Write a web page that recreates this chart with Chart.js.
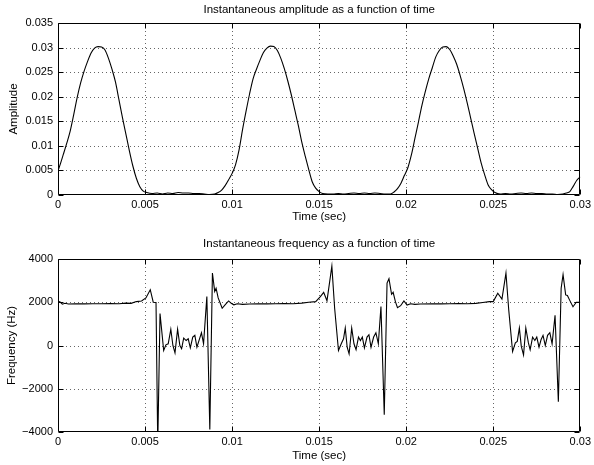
<!DOCTYPE html>
<html>
<head>
<meta charset="utf-8">
<script src="https://cdn.jsdelivr.net/npm/chart.js@4.4.1/dist/chart.umd.min.js"></script>
<style>
  body { margin: 0; background: #fff; }
  canvas { display: block; }
</style>
</head>
<body>
<canvas id="ampChart" width="594" height="232"></canvas>
<canvas id="freqChart" width="594" height="233"></canvas>
<script>
// time axis in ms, labelled in seconds
const timeTicks = [0, 5, 10, 15, 20, 25, 30];
const timeTickLabels = ['0', '0.005', '0.01', '0.015', '0.02', '0.025', '0.03'];

const ampTicks = [0, 0.005, 0.01, 0.015, 0.02, 0.025, 0.03, 0.035];
const ampTickLabels = ['0', '0.005', '0.01', '0.015', '0.02', '0.025', '0.03', '0.035'];

const freqTicks = [-4000, -2000, 0, 2000, 4000];
const freqTickLabels = ['\u22124000', '\u22122000', '0', '2000', '4000'];

// instantaneous amplitude
const ampTime = [
  0, 0.15, 0.3, 0.5, 0.7, 0.9, 1.1, 1.3, 1.5, 1.7, 1.9, 2.1, 2.3, 2.5, 2.7, 2.9, 3.1, 3.3, 3.5, 3.7,
  3.9, 4.1, 4.3, 4.5, 4.7, 4.9, 5.1, 5.4, 5.7, 6.0, 6.3, 6.6, 6.9, 7.2, 7.5, 7.8, 8.1, 8.4, 8.7, 9.0,
  9.2, 9.4, 9.6, 9.8, 10.0, 10.2, 10.4, 10.6, 10.8, 11.0, 11.2, 11.4, 11.6, 11.8, 12.0, 12.2, 12.4, 12.6, 12.8, 13.0,
  13.2, 13.4, 13.6, 13.8, 14.0, 14.2, 14.4, 14.6, 14.8, 15.0, 15.2, 15.5, 15.8, 16.1, 16.4, 16.7, 17.0, 17.3, 17.6, 17.9,
  18.2, 18.5, 18.8, 19.1, 19.3, 19.5, 19.7, 19.9, 20.1, 20.3, 20.5, 20.7, 20.9, 21.1, 21.3, 21.5, 21.7, 21.9, 22.1, 22.3,
  22.5, 22.7, 22.9, 23.1, 23.3, 23.5, 23.7, 23.9, 24.1, 24.3, 24.5, 24.7, 24.9, 25.1, 25.4, 25.7, 26.0, 26.3, 26.6, 26.9,
  27.2, 27.5, 27.8, 28.1, 28.4, 28.7, 29.0, 29.2, 29.4, 29.6, 29.8, 30.0
];
const ampValues = [
  0.0049, 0.0065, 0.0082, 0.0105, 0.0130, 0.0163, 0.0198, 0.0228, 0.0252, 0.0272, 0.0289, 0.0299, 0.0302, 0.0301, 0.0295, 0.0278, 0.0256, 0.0230, 0.0194, 0.0158,
  0.0124, 0.0090, 0.0059, 0.0034, 0.0017, 0.0008, 0.0005, 0.0003, 0.0004, 0.0002, 0.0004, 0.0003, 0.0005, 0.0004, 0.0004, 0.0003, 0.0003, 0.0002, 0.0001, 0.0002,
  0.0005, 0.0010, 0.0019, 0.0031, 0.0044, 0.0062, 0.0092, 0.0133, 0.0170, 0.0205, 0.0236, 0.0256, 0.0274, 0.0290, 0.0299, 0.0303, 0.0302, 0.0294, 0.0278, 0.0257,
  0.0232, 0.0204, 0.0173, 0.0142, 0.0108, 0.0079, 0.0052, 0.0027, 0.0014, 0.0007, 0.0003, 0.0002, 0.0002, 0.0003, 0.0002, 0.0003, 0.0004, 0.0003, 0.0004, 0.0003,
  0.0004, 0.0003, 0.0002, 0.0002, 0.0006, 0.0013, 0.0024, 0.0040, 0.0056, 0.0082, 0.0115, 0.0148, 0.0182, 0.0211, 0.0237, 0.0259, 0.0281, 0.0294, 0.0301, 0.0302,
  0.0296, 0.0283, 0.0266, 0.0243, 0.0217, 0.0188, 0.0157, 0.0126, 0.0096, 0.0066, 0.0042, 0.0021, 0.0011, 0.0005, 0.0002, 0.0003, 0.0002, 0.0003, 0.0004, 0.0003,
  0.0004, 0.0003, 0.0003, 0.0002, 0.0002, 0.0001, 0.0002, 0.0004, 0.0007, 0.0018, 0.0030, 0.0037
];

// instantaneous frequency in Hz
const freqTime = [
  0, 0.1, 0.25, 0.4, 0.6, 1.0, 1.5, 2.0, 2.5, 3.0, 3.5, 3.9, 4.2, 4.5, 4.8, 5.05, 5.3, 5.47, 5.63, 5.73,
  5.86, 6.07, 6.2, 6.33, 6.48, 6.6, 6.72, 6.87, 7.0, 7.1, 7.22, 7.36, 7.48, 7.6, 7.74, 7.86, 7.98, 8.12, 8.24, 8.36,
  8.55, 8.72, 8.87, 9.0, 9.08, 9.2, 9.43, 9.62, 9.8, 9.95, 10.1, 10.3, 10.6, 11.0, 11.5, 12.0, 12.5, 13.0, 13.5, 14.0,
  14.4, 14.8, 15.07, 15.26, 15.45, 15.73, 15.89, 16.11, 16.27, 16.4, 16.5, 16.61, 16.72, 16.87, 17.0, 17.12, 17.26, 17.37, 17.48, 17.6,
  17.75, 17.86, 17.98, 18.13, 18.26, 18.4, 18.55, 18.74, 18.9, 19.01, 19.16, 19.25, 19.38, 19.5, 19.68, 19.87, 20.05, 20.25, 20.5, 20.8,
  21.5, 22.0, 22.5, 23.0, 23.5, 24.0, 24.4, 24.78, 25.0, 25.26, 25.5, 25.73, 25.89, 26.11, 26.27, 26.38, 26.5, 26.61, 26.74, 26.87,
  27.02, 27.12, 27.26, 27.39, 27.5, 27.63, 27.75, 27.86, 27.99, 28.12, 28.25, 28.38, 28.55, 28.74, 28.9, 29.01, 29.16, 29.26, 29.38, 29.58,
  29.77, 29.92, 30.0
];
const freqValues = [
  1990, 2030, 1910, 1950, 1920, 1930, 1925, 1930, 1930, 1935, 1930, 1960, 1950, 2030, 2060, 2200, 2580, 2000, 1990, -4600,
  1480, -230, 30, 80, 750, 0, -340, 750, 0, -150, 340, 230, 310, -110, 390, 470, -80, 280, 590, 80,
  2260, -3880, 3350, 2500, 2650, 2200, 1720, 1900, 2060, 1950, 1880, 1930, 1900, 1920, 1930, 1925, 1930, 1935, 1930, 1960,
  2000, 2030, 2260, 2460, 2070, 3670, 1720, -230, 80, 310, 810, -80, -390, 810, 80, -190, 390, 230, 390, -110,
  390, 500, -80, 390, 590, 80, 1800, -3200, 2890, 3090, 2370, 2460, 2030, 1750, 1840, 2060, 1870, 1930, 1900, 1920,
  1930, 1925, 1930, 1935, 1930, 1950, 1990, 2030, 2030, 2420, 2150, 3350, 1640, -280, 120, 190, 810, -30, -440, 810,
  120, -200, 390, 230, 390, -80, 280, 470, 0, 470, 590, 80, 1400, -2600, 2650, 3280, 2340, 2310, 2110, 1790,
  2000, 2000, 2000
];

const FONT = 'Liberation Sans, Arial, Helvetica, sans-serif';

// MATLAB-like axes: dotted grid, inward ticks, box and centred title
const matlabBox = {
  id: 'matlabBox',
  beforeDatasetsDraw(chart) {
    const { ctx, chartArea: a, scales: { x, y } } = chart;
    ctx.save();
    ctx.strokeStyle = '#666';
    ctx.lineWidth = 1;
    ctx.setLineDash([1, 3]);
    ctx.beginPath();
    x.ticks.forEach(t => {
      const px = Math.round(x.getPixelForValue(t.value)) + 0.5;
      if (px < a.left + 2 || px > a.right - 2) return;
      ctx.moveTo(px, a.top);
      ctx.lineTo(px, a.bottom);
    });
    y.ticks.forEach(t => {
      const py = Math.round(y.getPixelForValue(t.value)) + 0.5;
      if (py < a.top + 2 || py > a.bottom - 2) return;
      ctx.moveTo(a.left, py);
      ctx.lineTo(a.right, py);
    });
    ctx.stroke();
    ctx.restore();
  },
  afterDatasetsDraw(chart, args, opts) {
    const { ctx, chartArea: a, scales: { x, y } } = chart;
    const L = Math.round(a.left) + 0.5, R = Math.round(a.right) - 0.5;
    const T = Math.round(a.top) + 0.5, B = Math.round(a.bottom) - 0.5;
    ctx.save();
    ctx.strokeStyle = '#000';
    ctx.lineWidth = 1;
    ctx.beginPath();
    x.ticks.forEach(t => {
      const px = Math.round(x.getPixelForValue(t.value)) + 0.5;
      ctx.moveTo(px, T); ctx.lineTo(px, T + 5);
      ctx.moveTo(px, B); ctx.lineTo(px, B - 5);
    });
    y.ticks.forEach(t => {
      const py = Math.round(y.getPixelForValue(t.value)) + 0.5;
      ctx.moveTo(L, py); ctx.lineTo(L + 5, py);
      ctx.moveTo(R, py); ctx.lineTo(R - 5, py);
    });
    ctx.rect(L, T, R - L, B - T);
    ctx.stroke();

    ctx.fillStyle = '#000';
    ctx.font = '11.5px ' + FONT;
    ctx.textAlign = 'center';
    ctx.textBaseline = 'middle';
    ctx.fillText(opts.text, (a.left + a.right) / 2, opts.y);
    ctx.restore();
  }
};

function makeChart(id, cfg) {
  return new Chart(document.getElementById(id), {
    type: 'line',
    data: {
      datasets: [{
        data: cfg.times.map((t, i) => ({ x: t, y: cfg.values[i] })),
        borderColor: '#000',
        borderWidth: 1.1,
        pointRadius: 0,
        fill: false,
        cubicInterpolationMode: cfg.smooth ? 'monotone' : 'default',
        tension: 0
      }]
    },
    options: {
      responsive: false,
      animation: false,
      devicePixelRatio: 1,
      layout: { padding: { top: cfg.top, right: 11, left: 0, bottom: 0 } },
      plugins: {
        legend: { display: false },
        tooltip: { enabled: false },
        matlabBox: { text: cfg.title, y: cfg.titleY }
      },
      scales: {
        x: {
          type: 'linear',
          min: 0,
          max: 30,
          grid: { display: false, drawTicks: false },
          border: { display: false },
          afterBuildTicks: s => { s.ticks = timeTicks.map(v => ({ value: v })); },
          afterFit: s => { s.height = cfg.xHeight; },
          ticks: {
            autoSkip: false,
            maxRotation: 0,
            padding: 3,
            color: '#000',
            font: { family: FONT, size: 11 },
            callback: (v, i) => timeTickLabels[i]
          },
          title: {
            display: true,
            text: 'Time (sec)',
            color: '#000',
            font: { family: FONT, size: 11.5 },
            padding: { top: 0, bottom: cfg.xTitlePad }
          }
        },
        y: {
          type: 'linear',
          min: cfg.yTicks[0],
          max: cfg.yTicks[cfg.yTicks.length - 1],
          grid: { display: false, drawTicks: false },
          border: { display: false },
          afterBuildTicks: s => { s.ticks = cfg.yTicks.map(v => ({ value: v })); },
          afterFit: s => { s.width = 58; },
          ticks: {
            autoSkip: false,
            padding: 5,
            color: '#000',
            font: { family: FONT, size: 11 },
            callback: (v, i) => cfg.yLabels[i]
          },
          title: {
            display: true,
            text: cfg.yTitle,
            color: '#000',
            font: { family: FONT, size: 11.5 },
            padding: { top: cfg.yTitlePad, bottom: 0 }
          }
        }
      }
    },
    plugins: [matlabBox]
  });
}

makeChart('ampChart', {
  times: ampTime,
  values: ampValues,
  smooth: true,
  yTicks: ampTicks,
  yLabels: ampTickLabels,
  yTitle: 'Amplitude',
  title: 'Instantaneous amplitude as a function of time',
  titleY: 9.5,
  top: 23,
  xHeight: 37,
  xTitlePad: 8.1,
  yTitlePad: 6.7
});

makeChart('freqChart', {
  times: freqTime,
  values: freqValues,
  smooth: false,
  yTicks: freqTicks,
  yLabels: freqTickLabels,
  yTitle: 'Frequency (Hz)',
  title: 'Instantaneous frequency as a function of time',
  titleY: 12,
  top: 27,
  xHeight: 33,
  xTitlePad: 2.6,
  yTitlePad: 4.7
});
</script>
</body>
</html>
